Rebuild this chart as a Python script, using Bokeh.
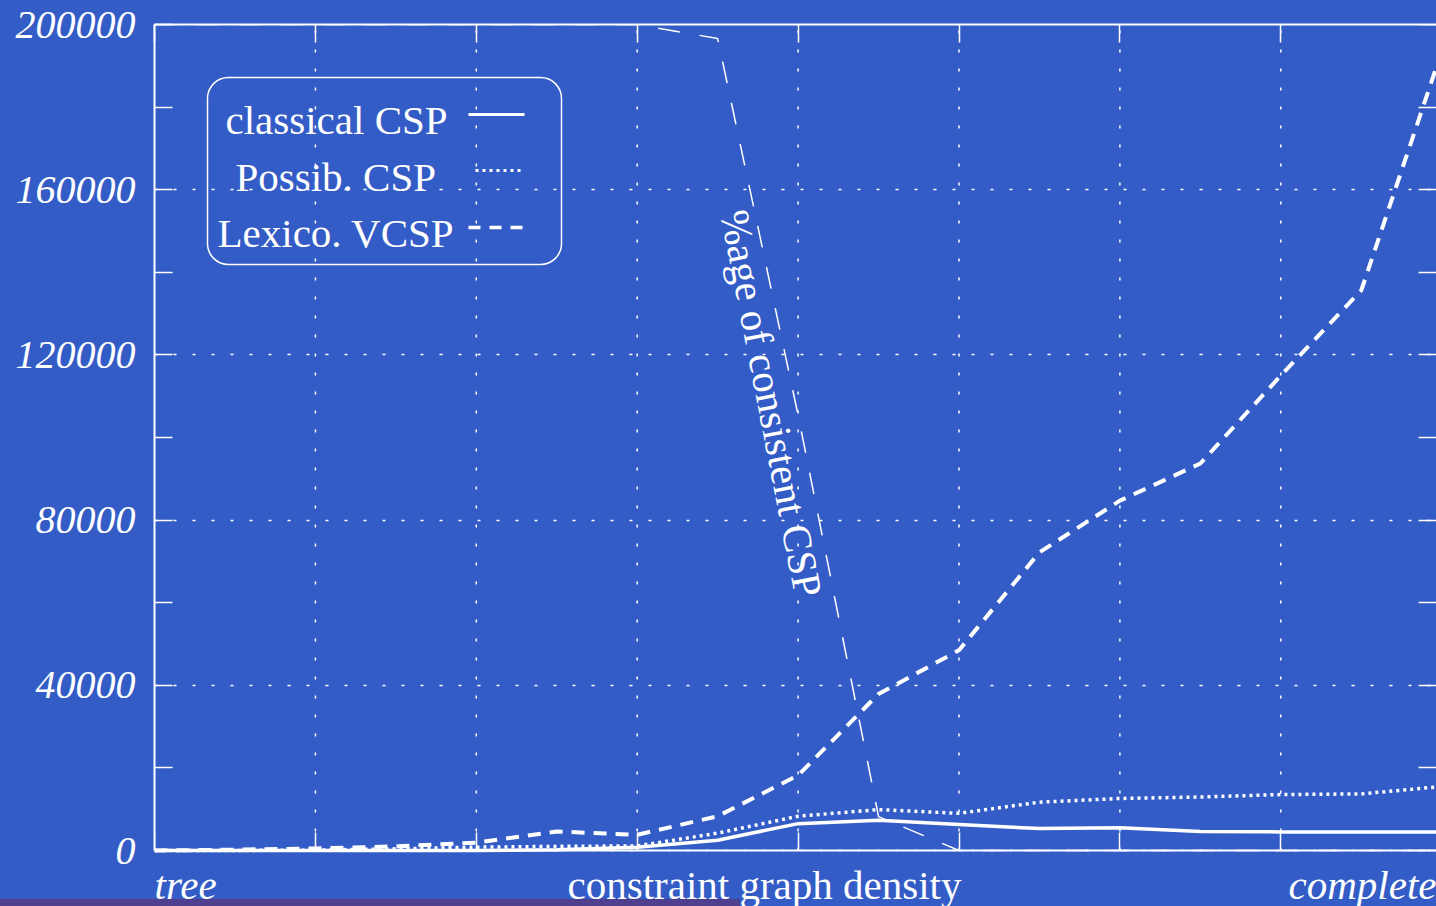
from bokeh.plotting import figure
from bokeh.models import (Range1d, FixedTicker, NumeralTickFormatter, LinearAxis, Label,
                          BoxAnnotation, Arrow, GlobalInlineStyleSheet, CustomLabelingPolicy)
from bokeh.embed import file_html
from bokeh.resources import INLINE

# ---------------- data ----------------
density = [0, 0.5, 1, 1.5, 2, 2.5, 3, 3.5, 4, 4.5, 5, 5.5, 6, 6.5, 7, 7.5, 8]
classical_csp = [0, 0, 0, 0, 0, 200, 800, 2500, 6500, 7300, 6300, 5300, 5500, 4600, 4500, 4500, 4500]
possib_csp = [0, 0, 100, 400, 800, 1000, 1100, 4200, 8300, 9900, 9000, 11700, 12600, 12950, 13550, 13700, 15500]
lexico_vcsp = [0, 200, 500, 1000, 1900, 4600, 3800, 8300, 18200, 37900, 48500, 72200, 84700, 93700, 115000, 135600, 193500]
pct_consistent = [100, 100, 100, 100, 100, 100, 100, 98.3, 52.7, 4.1, 0, 0, 0, 0, 0, 0, 0]

y_ticks = [0, 40000, 80000, 120000, 160000, 200000]
y_minor_ticks = [20000, 60000, 100000, 140000, 180000]
x_ticks = [0, 1, 2, 3, 4, 5, 6, 7, 8]
x_tick_labels = ["tree", "complete"]
series_names = ["classical CSP", "Possib. CSP", "Lexico. VCSP"]
x_title = "constraint graph density"
pct_title = "%age of consistent CSP"

# ---------------- layout ----------------
BG = "#335CC6"
FG = "white"
FONT = "Liberation Serif"
FS = "41px"
FIG_W, FIG_H = 1436, 906
FRAME_L, FRAME_T, FRAME_B = 154, 24, 850      # pixel position of the y=0 .. y=max box
PX_PER_U = 160.9
Y_MAX = 200000
TICK = 18
X_END = (FIG_W - FRAME_L) / PX_PER_U


def ux(px):
    return (px - FRAME_L) / PX_PER_U


def vy(py):
    return (FRAME_B - py) / (FRAME_B - FRAME_T) * Y_MAX


Y_MIN = vy(FIG_H)   # the drawing area reaches down to the bottom edge so that texts show

p = figure(width=FIG_W, height=FIG_H, output_backend="svg", toolbar_location=None,
           x_range=Range1d(0, X_END), y_range=Range1d(Y_MIN, Y_MAX),
           min_border_left=FRAME_L, min_border_right=0,
           min_border_top=FRAME_T, min_border_bottom=0,
           background_fill_color=BG, background_fill_alpha=0,
           border_fill_color=BG, border_fill_alpha=0,
           outline_line_color=None, x_axis_location=None, y_axis_location=None)
p.extra_y_ranges = {"pct": Range1d(Y_MIN / Y_MAX * 100, 100)}
p.stylesheets = [GlobalInlineStyleSheet(css=(
    "html{background:linear-gradient(#4F3F8E,#4F3F8E) 0 899px/740px 7px no-repeat, %s;}"
    "body{background:transparent;}" % BG))]

yt = FixedTicker(ticks=y_ticks, minor_ticks=y_minor_ticks)
xt = FixedTicker(ticks=x_ticks, minor_ticks=[])
no_labels = CustomLabelingPolicy(code="return []")


def style_axis(ax, labels=False):
    ax.axis_line_color = FG
    ax.axis_line_width = 2
    ax.major_tick_line_color = FG
    ax.minor_tick_line_color = FG
    ax.major_tick_line_width = 1.5
    ax.minor_tick_line_width = 1.5
    ax.major_tick_in = TICK
    ax.major_tick_out = 0
    ax.minor_tick_in = TICK
    ax.minor_tick_out = 0
    if labels:
        ax.major_label_text_color = FG
        ax.major_label_text_font = FONT
        ax.major_label_text_font_size = "40px"
        ax.major_label_text_font_style = "italic"
        ax.major_label_standoff = 19
    else:
        ax.major_label_policy = no_labels
        ax.major_label_text_font_size = "1px"
        ax.major_label_standoff = 0


left = LinearAxis(ticker=yt, formatter=NumeralTickFormatter(format="0"), bounds=(0, Y_MAX))
style_axis(left, labels=True)
right = LinearAxis(ticker=yt, bounds=(0, Y_MAX), fixed_location=X_END)
style_axis(right)
right.axis_line_color = None
bottom = LinearAxis(ticker=xt, fixed_location=0)
style_axis(bottom)
top = LinearAxis(ticker=xt)
style_axis(top)
p.add_layout(left, "left")
p.add_layout(right, "right")
p.add_layout(bottom, "below")
p.add_layout(top, "above")

p.xgrid.visible = False
p.ygrid.ticker = yt
p.ygrid.grid_line_color = FG
p.ygrid.grid_line_width = 1.5
p.ygrid.grid_line_dash = "3 16"
# vertical grid lines, only between y=0 and y=max
inner_x = x_ticks[1:]
p.segment(x0=inner_x, y0=[0] * len(inner_x), x1=inner_x, y1=[Y_MAX] * len(inner_x),
          line_color=FG, line_width=1.5, line_dash="3 16")

# series
p.line(density, classical_csp, line_color=FG, line_width=3.5)
p.line(density, possib_csp, line_color=FG, line_width=3.5, line_dash="3 4")
p.line(density, lexico_vcsp, line_color=FG, line_width=4, line_dash="13 9")
p.line(density, pct_consistent, y_range_name="pct", line_color=FG, line_width=1.5,
       line_dash="22 20")

# rotated label of percentage curve
p.add_layout(Label(x=ux(771), y=vy(403), text=pct_title, angle=-79, angle_units="deg",
                   text_align="center", text_baseline="middle", text_color=FG,
                   text_font=FONT, text_font_size=FS))

# legend (gnuplot style: text then sample)
p.add_layout(BoxAnnotation(left=ux(207), right=ux(561), top=vy(77), bottom=vy(264),
                           fill_color=None, line_color=FG, line_alpha=1, line_width=1.5,
                           border_radius=21))
leg_text_x = [225, 235, 217]
leg_mid_y = [119, 176, 232]
leg_line_y = [114, 170, 227]
leg_line_x0 = [468, 475, 468]
leg_dash = ["solid", "3 4", "12 9"]
leg_w = [3, 3, 3.5]
for name, tx, my, ly, lx0, dash, w in zip(series_names, leg_text_x, leg_mid_y, leg_line_y,
                                           leg_line_x0, leg_dash, leg_w):
    p.add_layout(Label(x=ux(tx), y=vy(my), text=name, text_align="left",
                       text_baseline="middle", text_color=FG, text_font=FONT,
                       text_font_size=FS))
    p.add_layout(Arrow(end=None, x_start=ux(lx0), y_start=vy(ly), x_end=ux(524), y_end=vy(ly),
                       line_color=FG, line_width=w, line_dash=dash))

# x labels
p.add_layout(Label(x=x_ticks[0], y=vy(884), text=x_tick_labels[0], text_align="left",
                   text_baseline="middle", text_color=FG, text_font=FONT,
                   text_font_size=FS, text_font_style="italic"))
p.add_layout(Label(x=X_END, y=vy(884), text=x_tick_labels[1], text_align="right",
                   text_baseline="middle", text_color=FG, text_font=FONT,
                   text_font_size=FS, text_font_style="italic"))
p.add_layout(Label(x=ux(567), y=vy(884), text=x_title, text_align="left",
                   text_baseline="middle", text_color=FG, text_font=FONT,
                   text_font_size=FS))

open("out.html", "w").write(file_html(p, INLINE))
